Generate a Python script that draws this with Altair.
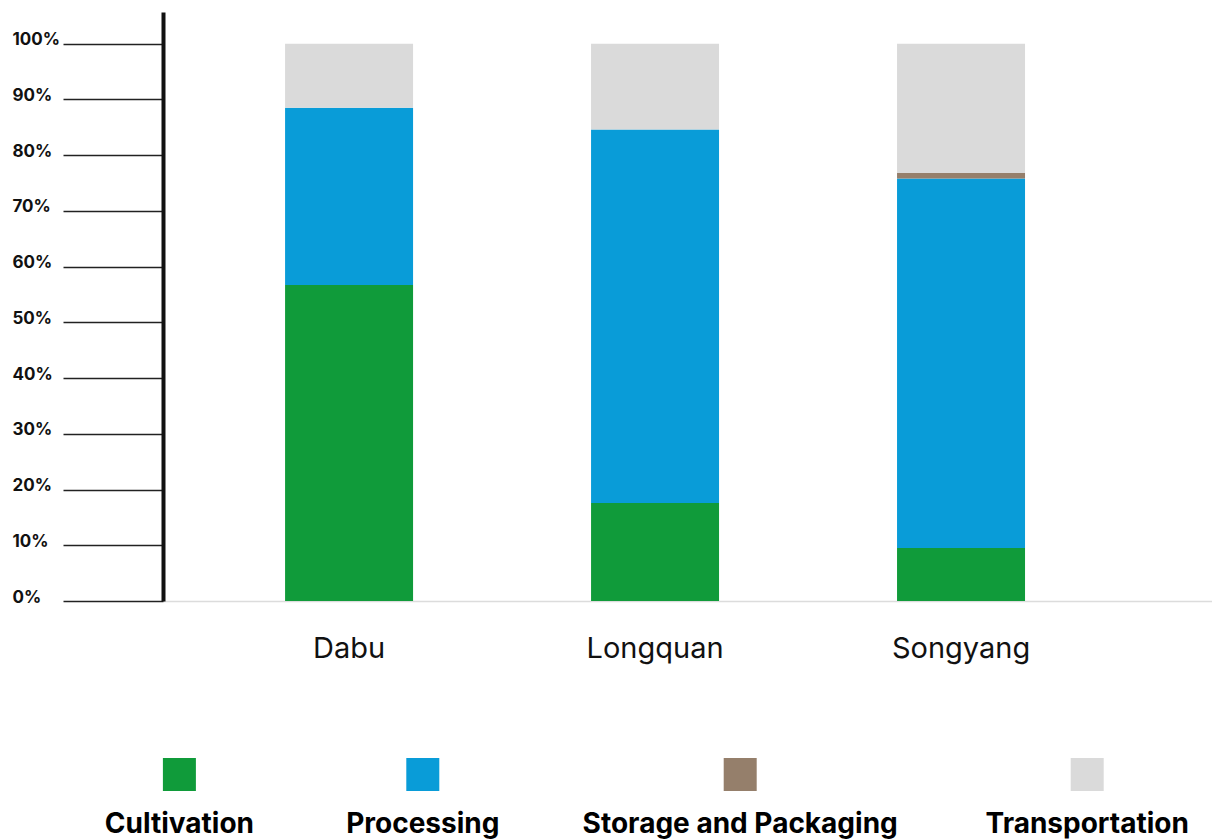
import altair as alt
import pandas as pd

# Share of each supply-chain stage per production region (percent)
regions = ["Dabu", "Longquan", "Songyang"]
stages = ["Cultivation", "Processing", "Storage and Packaging", "Transportation"]
cultivation = [56.7, 17.6, 9.5]
processing = [31.8, 67.0, 66.3]
storage_packaging = [0.0, 0.0, 1.0]
transportation = [11.5, 15.4, 23.2]

stage_colors = ["#109b3a", "#099cd8", "#957f6b", "#dadada"]
y_tick_values = [0, 0.1, 0.2, 0.3, 0.4, 0.5, 0.6, 0.7, 0.8, 0.9, 1.0]

series = [cultivation, processing, storage_packaging, transportation]
rows = []
for i, region in enumerate(regions):
    for k, (stage, values) in enumerate(zip(stages, series)):
        rows.append({"region": region, "stage": stage, "order": k, "share": values[i] / 100})
df = pd.DataFrame(rows)

legend_df = pd.DataFrame({"stage": stages})

color_scale = alt.Scale(domain=stages, range=stage_colors)

bars = (
    alt.Chart(df)
    .mark_bar()
    .encode(
        x=alt.X(
            "region:N",
            sort=regions,
            scale=alt.Scale(paddingInner=0.5817, paddingOuter=0.505, align=0.395),
            axis=alt.Axis(
                title=None,
                labelAngle=0,
                domainColor="#dcdcdc",
                domainWidth=1.5,
                ticks=False,
                tickSize=0,
                labelPadding=33,
                labelFont="Inter",
                labelFontSize=29,
                labelColor="#111111",
                grid=False,
            ),
        ),
        y=alt.Y(
            "share:Q",
            stack="zero",
            scale=alt.Scale(domain=[0, 1.057], nice=False, zero=True),
            axis=alt.Axis(
                title=None,
                values=y_tick_values,
                format=".0%",
                grid=False,
                domainColor="#111111",
                domainWidth=4,
                tickColor="#222222",
                tickWidth=1.5,
                tickSize=100,
                labelAlign="left",
                labelBaseline="alphabetic",
                labelPadding=51,
                labelOffset=1,
                labelFont="Inter",
                labelFontSize=17,
                labelFontWeight="bold",
                labelColor="#111111",
            ),
        ),
        color=alt.Color("stage:N", scale=color_scale, legend=None),
        order=alt.Order("order:Q"),
    )
)

# Legend row below the plot: entries laid out left to right, each as wide
# as its label (approximate glyph width per character) with a fixed gap.
legend_base = (
    alt.Chart(legend_df)
    .transform_window(slot="row_number()")
    .transform_calculate(entry_w="length(datum.stage) * 14.8")
    .transform_window(run_w="sum(entry_w)", sort=[alt.SortField("slot")], frame=[None, 0])
    .transform_calculate(cx="-65 + datum.run_w - datum.entry_w / 2 + (datum.slot - 1) * 88")
)

legend_swatches = legend_base.mark_square(size=1089, opacity=1, strokeWidth=0).encode(
    x=alt.X("cx:Q", scale=None, axis=None),
    y=alt.value(762.5),
    color=alt.Color("stage:N", scale=color_scale, legend=None),
)

legend_labels = legend_base.mark_text(
    font="Inter",
    fontSize=28,
    fontWeight="bold",
    color="#000000",
    align="center",
    baseline="alphabetic",
).encode(
    x=alt.X("cx:Q", scale=None, axis=None),
    y=alt.value(821),
    text="stage:N",
)

chart = (
    alt.layer(bars, legend_swatches, legend_labels)
    .resolve_scale(x="independent")
    .properties(
        width=1049,
        height=589,
        autosize="none",
        padding={"left": 163, "top": 12, "right": 0, "bottom": 239},
        background="#ffffff",
    )
    .configure_view(stroke=None)
)

chart.save("out.html", embed_options={"renderer": "svg", "actions": False})
